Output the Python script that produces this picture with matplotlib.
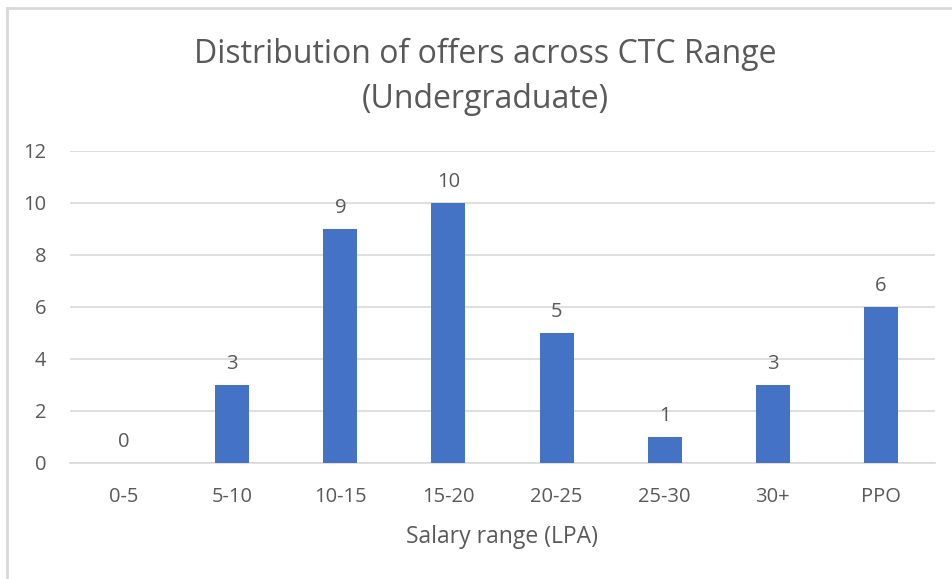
import matplotlib
matplotlib.use("Agg")
import matplotlib.pyplot as plt
from matplotlib.lines import Line2D

categories = ["0-5", "5-10", "10-15", "15-20", "20-25", "25-30", "30+", "PPO"]
values = [0, 3, 9, 10, 5, 1, 3, 6]
yticks = [0, 2, 4, 6, 8, 10, 12]

plt.rcParams['font.family'] = ['Open Sans', 'DejaVu Sans']
txt = '#595959'
W, H = 952, 579

fig = plt.figure(figsize=(W/100, H/100), dpi=100)
ax = fig.add_axes([70/W, 1-463/H, 865/W, 312/H])

x = list(range(len(categories)))
ax.bar(x, values, width=0.315, color='#4472C4', zorder=3)
for xi, v in zip(x, values):
    ax.annotate(str(v), (xi, v), xytext=(0, 11.8), textcoords='offset points',
                ha='center', va='baseline', fontsize=14.5, color=txt)

ax.set_xlim(-0.5, len(categories) - 0.5)
ax.set_ylim(0, 12)
ax.set_yticks(yticks)
ax.set_xticks(x)
ax.set_xticklabels(categories)
ax.tick_params(axis='both', length=0, labelsize=14.5, labelcolor=txt)
ax.tick_params(axis='x', pad=17)
ax.tick_params(axis='y', pad=17)
ax.grid(axis='y', color='#D9D9D9', linewidth=1.2, zorder=0)
for s in ['top', 'right', 'left']:
    ax.spines[s].set_visible(False)
ax.spines['bottom'].set_color('#D9D9D9')
ax.spines['bottom'].set_linewidth(1.2)
ax.spines['bottom'].set_zorder(1)

fig.text(502/W, 1-543/H, "Salary range (LPA)", ha='center', va='baseline',
         fontsize=16.5, color=txt)
fig.text(485/W, 1-63/H, "Distribution of offers across CTC Range", ha='center', va='baseline',
         fontsize=23, color=txt)
fig.text(485/W, 1-108.5/H, "(Undergraduate)", ha='center', va='baseline', fontsize=23, color=txt)

# chart-area border (only left and top edges visible in the crop)
bx, by = 6.5/W, 1 - 8/H
fig.add_artist(Line2D([bx, bx], [0, by], transform=fig.transFigure, color='#D9D9D9', linewidth=2))
fig.add_artist(Line2D([bx, 1], [by, by], transform=fig.transFigure, color='#D9D9D9', linewidth=2))

fig.savefig("out.png", dpi=100, facecolor='white')
